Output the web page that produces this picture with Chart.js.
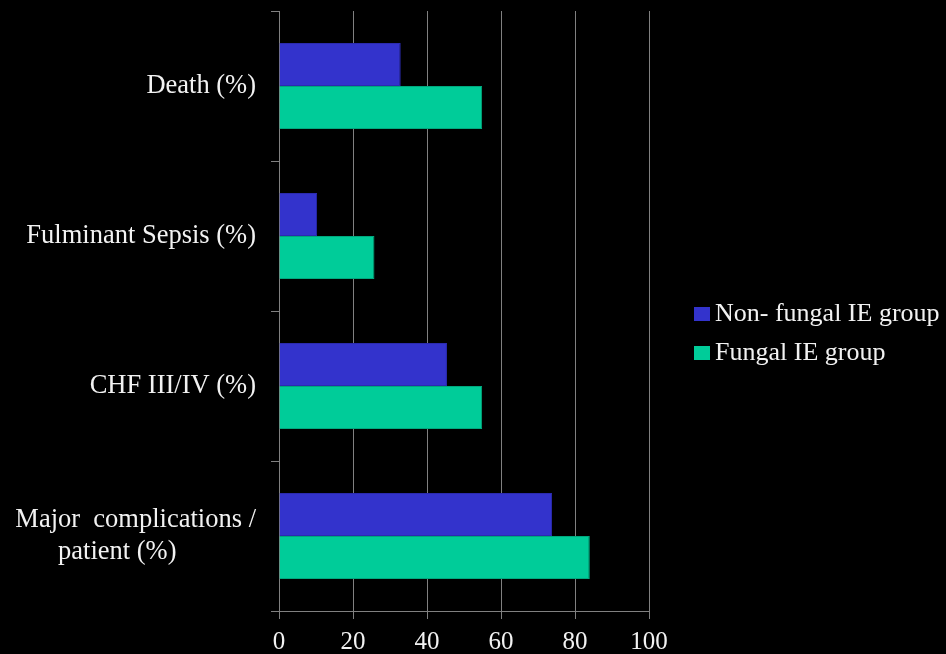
<!DOCTYPE html>
<html>
<head>
<meta charset="utf-8">
<title>Complications: fungal vs non-fungal IE</title>
<script src="https://cdn.jsdelivr.net/npm/chart.js@4"></script>
<style>
    html, body { margin: 0; padding: 0; background: #000; }
    #wrap { position: relative; width: 946px; height: 654px; }
    #legendas {
        position: absolute;
        left: 694px;
        top: 293px;
        font-family: 'Liberation Serif', serif;
        font-size: 26px;
        line-height: 39px;
        color: #f2f2f2;
        white-space: nowrap;
    }
    #legendas span {
        display: inline-block;
        width: 16px;
        height: 14px;
        margin-right: 5px;
    }
</style>
</head>
<body>
<div id="wrap">
    <canvas id="grafico"></canvas>
    <div id="legendas"></div>
</div>
<script>
// categories, top to bottom
const categorias = [
    'Death (%)',
    'Fulminant Sepsis (%)',
    'CHF III/IV (%)',
    ['Major  complications /', 'patient (%)            ']
];

const series = ['Non- fungal IE group', 'Fungal IE group'];
const naoFungico = [32.9, 10.3, 45.4, 73.8];
const fungico = [54.9, 25.8, 54.9, 84.0];

const eixoX = [0, 20, 40, 60, 80, 100];

const cores = ['#3333CC', '#00CC99'];
const bordas = ['#2b2bb0', '#00a87e'];
const cinza = '#808080';
const texto = '#f2f2f2';
const fonte = 'Liberation Serif';

const ctx = document.getElementById('grafico').getContext('2d');

const data = {
    labels: categorias,
    datasets: [naoFungico, fungico].map((valores, i) => ({
        label: series[i],
        data: valores,
        backgroundColor: cores[i],
        borderColor: bordas[i],
        borderWidth: 1,
        barPercentage: 1,
        categoryPercentage: 0.573
    }))
};

new Chart(ctx, {
    type: 'bar',
    data: data,
    options: {
        indexAxis: 'y',
        responsive: true,
        maintainAspectRatio: false,
        animation: false,
        // room on the right is for the html legend
        layout: { padding: { top: 11, left: 0, right: 297, bottom: 0 } },
        plugins: {
            tooltip: { enabled: false },
            legend: { display: false }
        },
        scales: {
            x: {
                min: 0,
                max: 100,
                afterBuildTicks: (scale) => {
                    scale.ticks = eixoX.map(v => ({ value: v }));
                },
                afterFit: (scale) => {
                    scale.height = 43;
                },
                grid: {
                    color: cinza,
                    lineWidth: 1,
                    tickLength: 8
                },
                border: { color: cinza, width: 1 },
                ticks: {
                    color: texto,
                    font: { family: fonte, size: 25 },
                    padding: 8,
                    maxRotation: 0
                }
            },
            y: {
                offset: true,
                afterFit: (scale) => {
                    scale.width = 279;
                    scale.paddingTop = 0;
                    scale.paddingBottom = 0;
                },
                grid: {
                    offset: true,
                    drawOnChartArea: false,
                    color: cinza,
                    tickLength: 8
                },
                border: { color: cinza, width: 1 },
                ticks: {
                    color: texto,
                    font: { family: fonte, size: 26.5 },
                    padding: 15
                }
            }
        }
    }
});

let legendHtml = '';
data.datasets.forEach((ds) => {
    legendHtml += `<span style="background: ${ds.backgroundColor}"></span>${ds.label}<br>`;
});
document.getElementById('legendas').innerHTML = legendHtml;
</script>
</body>
</html>
